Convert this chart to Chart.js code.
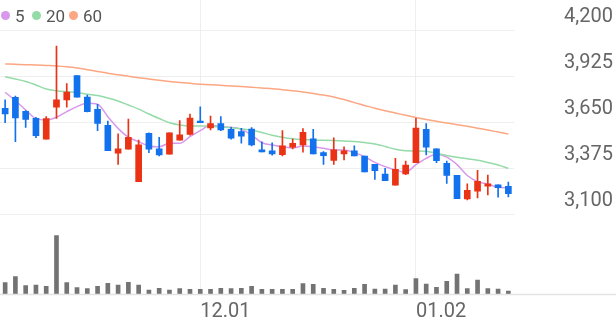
<!DOCTYPE html>
<html>
<head>
<meta charset="utf-8">
<script src="https://cdn.jsdelivr.net/npm/chart.js@4.4.0/dist/chart.umd.min.js"></script>
<style>
    html, body { margin: 0; padding: 0; background: #fff; }
    #wrap { position: relative; width: 616px; height: 321px; }
    #legend { position: absolute; left: 0; top: 0; font-family: Roboto, sans-serif; font-size: 17px; color: #555; }
    .dot { position: absolute; top: 10.5px; width: 9px; height: 9px; border-radius: 50%; }
    .lbl { position: absolute; top: 8px; line-height: 17px; }
</style>
</head>
<body>
<div id="wrap">
    <canvas id="chart" width="616" height="321"></canvas>
    <div id="legend">
        <span class="dot" style="left:1px;background:#d898ec"></span><span class="lbl" style="left:15px">5</span>
        <span class="dot" style="left:32px;background:#94dba8"></span><span class="lbl" style="left:46px">20</span>
        <span class="dot" style="left:69px;background:#fba783"></span><span class="lbl" style="left:83px">60</span>
    </div>
</div>
<script>
// trading days shown (Nov 2022 - Jan 2023)
const labels = [
    '11.04', '11.07', '11.08', '11.09', '11.10', '11.11', '11.14', '11.15', '11.16', '11.17',
    '11.18', '11.21', '11.22', '11.23', '11.24', '11.25', '11.28', '11.29', '11.30',
    '12.01', '12.02', '12.05', '12.06', '12.07', '12.08', '12.09', '12.12', '12.13', '12.14',
    '12.15', '12.16', '12.19', '12.20', '12.21', '12.22', '12.23', '12.26', '12.27', '12.28', '12.29',
    '01.02', '01.03', '01.04', '01.05', '01.06', '01.09', '01.10', '01.11', '01.12', '01.13'
];

const opens = [3732, 3798, 3714, 3672, 3548, 3738, 3782, 3927, 3799, 3726,
    3630, 3463, 3487, 3293, 3582, 3490, 3457, 3542, 3576, 3656,
    3614, 3640, 3606, 3592, 3608, 3483, 3477, 3455, 3499, 3513,
    3550, 3467, 3421, 3459, 3477, 3447, 3397, 3339, 3273, 3339,
    3407, 3606, 3489, 3403, 3331, 3190, 3236, 3267, 3275, 3265];
const highs = [3782, 3805, 3718, 3678, 3682, 4104, 3879, 3927, 3811, 3756,
    3656, 3580, 3668, 3542, 3586, 3559, 3586, 3658, 3698, 3741,
    3686, 3682, 3618, 3612, 3616, 3532, 3526, 3598, 3548, 3610,
    3606, 3473, 3556, 3501, 3508, 3447, 3397, 3373, 3433, 3417,
    3672, 3640, 3489, 3417, 3331, 3281, 3361, 3333, 3275, 3291];
const lows = [3646, 3532, 3618, 3556, 3548, 3672, 3738, 3798, 3710, 3598,
    3478, 3397, 3487, 3293, 3467, 3447, 3457, 3542, 3572, 3646,
    3602, 3598, 3548, 3523, 3507, 3471, 3451, 3447, 3489, 3469,
    3459, 3397, 3397, 3423, 3447, 3351, 3307, 3299, 3273, 3335,
    3407, 3453, 3407, 3283, 3192, 3184, 3196, 3214, 3200, 3202];
const closes = [3698, 3674, 3666, 3568, 3670, 3782, 3829, 3798, 3712, 3642,
    3478, 3490, 3559, 3513, 3487, 3453, 3586, 3574, 3674, 3646,
    3640, 3602, 3553, 3566, 3513, 3471, 3459, 3507, 3523, 3588,
    3459, 3449, 3483, 3477, 3447, 3351, 3359, 3299, 3367, 3393,
    3614, 3499, 3419, 3331, 3192, 3242, 3296, 3281, 3257, 3221];

const volumes = [113000, 173000, 83000, 90000, 77000, 583000, 113000, 63000, 53000, 77000,
    107000, 90000, 117000, 90000, 40000, 57000, 40000, 53000, 47000, 47000,
    47000, 57000, 53000, 57000, 77000, 47000, 47000, 47000, 47000, 103000,
    97000, 57000, 47000, 37000, 57000, 97000, 50000, 50000, 90000, 43000,
    153000, 100000, 67000, 127000, 200000, 53000, 140000, 53000, 50000, 30000];

// moving averages
const ma5 = [3828, 3777, 3722, 3670, 3662, 3678, 3712, 3742, 3762, 3756,
    3682, 3612, 3559, 3532, 3507, 3502, 3523, 3523, 3562, 3598,
    3630, 3622, 3618, 3606, 3572, 3526, 3513, 3502, 3495, 3507,
    3502, 3493, 3483, 3483, 3467, 3443, 3409, 3383, 3363, 3350,
    3395, 3433, 3457, 3440, 3395, 3330, 3293, 3279, 3260, 3257];
const ma20 = [3921, 3907, 3892, 3871, 3847, 3837, 3831, 3826, 3816, 3808,
    3794, 3776, 3752, 3727, 3698, 3671, 3645, 3632, 3626, 3626,
    3625, 3620, 3615, 3609, 3602, 3587, 3571, 3559, 3550, 3545,
    3542, 3541, 3539, 3536, 3534, 3527, 3519, 3504, 3487, 3478,
    3477, 3475, 3463, 3450, 3439, 3430, 3421, 3408, 3393, 3373];
const ma60 = [3997, 3995, 3993, 3991, 3988, 3985, 3980, 3973, 3963, 3952,
    3942, 3932, 3924, 3915, 3907, 3899, 3892, 3886, 3881, 3876,
    3872, 3869, 3865, 3862, 3858, 3853, 3849, 3843, 3837, 3829,
    3821, 3811, 3800, 3784, 3766, 3749, 3732, 3717, 3704, 3690,
    3677, 3665, 3654, 3644, 3634, 3624, 3613, 3602, 3590, 3578];

const PRICE_TICKS = [3100, 3375, 3650, 3925, 4200];
// price range of the whole plot height (gridlines 4200 -> 30px, 3100 -> 214px, plot 0..294px)
const PRICE_MIN = 3100 - 80 * 1100 / 184;
const PRICE_MAX = 4200 + 30 * 1100 / 184;
const VOL_MAX = 2940000;

const UP = '#ea3214';
const DOWN = '#1271ec';
const candleColors = opens.map((o, i) => closes[i] >= o ? UP : DOWN);

const baseLine = {
    id: 'baseLine',
    afterDatasetsDraw(chart) {
        const {ctx, chartArea} = chart;
        ctx.save();
        ctx.strokeStyle = '#e3e3e3';
        ctx.lineWidth = 1.5;
        ctx.beginPath();
        ctx.moveTo(0, chartArea.bottom + 0.5);
        ctx.lineTo(chart.width, chartArea.bottom + 0.5);
        ctx.stroke();
        ctx.restore();
    }
};

function maLine(data, color) {
    return {
        type: 'line',
        data: data,
        borderColor: color,
        borderWidth: 1.5,
        pointRadius: 0,
        cubicInterpolationMode: 'monotone',
        yAxisID: 'y',
        order: 3
    };
}

new Chart(document.getElementById('chart'), {
    type: 'bar',
    data: {
        labels: labels,
        datasets: [
            maLine(ma60, '#fba783'),
            maLine(ma20, '#94dba8'),
            maLine(ma5, '#d898ec'),
            {
                data: lows.map((l, i) => [l, highs[i]]),
                backgroundColor: candleColors,
                barThickness: 1,
                grouped: false,
                yAxisID: 'y',
                order: 2
            },
            {
                data: opens.map((o, i) => [o, closes[i]]),
                backgroundColor: candleColors,
                barThickness: 6,
                minBarLength: 1,
                grouped: false,
                yAxisID: 'y',
                order: 1
            },
            {
                data: volumes,
                backgroundColor: '#737373',
                barThickness: 4,
                grouped: false,
                yAxisID: 'yv',
                order: 1
            }
        ]
    },
    options: {
        responsive: false,
        animation: false,
        layout: {padding: {top: 0, right: 3, bottom: 0, left: 0}},
        plugins: {
            legend: {display: false},
            tooltip: {enabled: false}
        },
        scales: {
            x: {
                offset: true,
                grid: {offset: false, color: '#eeeeee', drawTicks: false},
                border: {display: false},
                ticks: {
                    autoSkip: false,
                    maxRotation: 0,
                    align: 'start',
                    padding: 6,
                    color: '#666',
                    font: {family: 'Roboto', size: 20},
                    callback: function (v) {
                        return this.getLabelForValue(v);
                    }
                },
                afterBuildTicks: (scale) => {
                    // one tick at the first trading day of each month
                    scale.ticks = scale.ticks.filter(t => t.value > 0 &&
                        labels[t.value].slice(0, 2) !== labels[t.value - 1].slice(0, 2));
                },
                afterFit: (scale) => {
                    scale.height = 27;
                    scale.paddingLeft = 0;
                    scale.paddingRight = 0;
                }
            },
            y: {
                position: 'right',
                min: PRICE_MIN,
                max: PRICE_MAX,
                grid: {color: '#eeeeee', drawTicks: false},
                border: {display: false},
                ticks: {
                    crossAlign: 'far',
                    labelOffset: -13,
                    color: '#666',
                    font: {family: 'Roboto', size: 20},
                    callback: v => v.toLocaleString('en-US')
                },
                afterBuildTicks: (scale) => {
                    scale.ticks = PRICE_TICKS.map(v => ({value: v}));
                },
                afterFit: (scale) => {
                    scale.width = 99.5;
                    scale.paddingTop = 0;
                    scale.paddingBottom = 0;
                }
            },
            yv: {
                display: false,
                min: 0,
                max: VOL_MAX
            }
        }
    },
    plugins: [baseLine]
});
</script>
</body>
</html>
